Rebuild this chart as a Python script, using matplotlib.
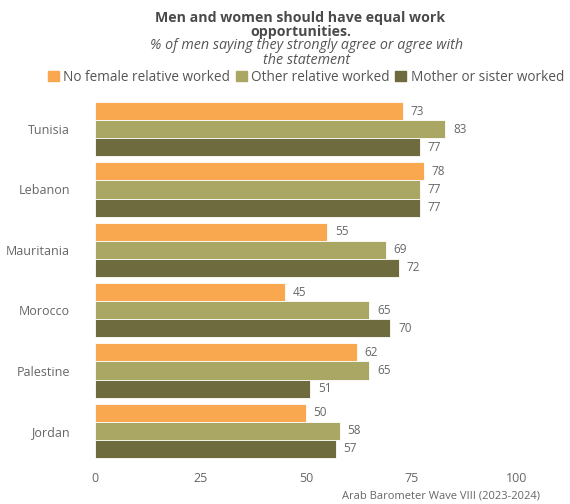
import matplotlib
matplotlib.use("Agg")
import matplotlib.pyplot as plt
import numpy as np

countries = ["Tunisia", "Lebanon", "Mauritania", "Morocco", "Palestine", "Jordan"]
series_names = ["No female relative worked", "Other relative worked", "Mother or sister worked"]
no_female = [73, 78, 55, 45, 62, 50]
other_relative = [83, 77, 69, 65, 65, 58]
mother_sister = [77, 77, 72, 70, 51, 57]
x_ticks = [0, 25, 50, 75, 100]

colors = ["#FAA850", "#AAA764", "#6E6B3E"]
plt.rcParams["font.family"] = ["Open Sans", "DejaVu Sans"]

fig = plt.figure(figsize=(5.7, 5.04), dpi=100)
ax = fig.add_axes([0.1667, 0.0853, 0.7404, 0.7183])

y = np.arange(len(countries))
h = 0.3
values = [no_female, other_relative, mother_sister]
for i, (vals, col, name) in enumerate(zip(values, colors, series_names)):
    pos = y + (i - 1) * h
    bars = ax.barh(pos, vals, height=h, color=col, edgecolor="white", linewidth=0.6, label=name)
    for b, v in zip(bars, vals):
        ax.text(v + 1.8, b.get_y() + b.get_height() / 2, f"{v}", va="center", ha="left",
                fontsize=8.5, color="#666666")

ax.set_ylim(len(countries) - 0.5, -0.5)
ax.set_xlim(0, 100)
ax.set_xticks(x_ticks)
ax.set_xticklabels([str(t) for t in x_ticks])
ax.set_yticks(y)
ax.set_yticklabels(countries)
ax.tick_params(axis="both", length=0, colors="#666666", labelsize=9)
ax.tick_params(axis="y", pad=18)
ax.tick_params(axis="x", pad=8)
for s in ax.spines.values():
    s.set_visible(False)

fig.text(0.527, 0.950, "Men and women should have equal work\nopportunities.", ha="center", va="center",
         fontsize=10.2, fontweight="bold", color="#4A4A4A", linespacing=0.95)
fig.text(0.537, 0.895, "% of men saying they strongly agree or agree with\nthe statement", ha="center",
         va="center", fontsize=10.3, style="italic", color="#555555", linespacing=0.95)

handles = [plt.Rectangle((0, 0), 1, 1, color=c) for c in colors]
fig.legend(handles, series_names, loc="center", bbox_to_anchor=(0.537, 0.847), ncol=3, frameon=False,
           fontsize=9.8, handlelength=0.8, handleheight=0.8, handletextpad=0.35, columnspacing=0.4,
           labelcolor="#555555")

fig.text(0.947, 0.004, "Arab Barometer Wave VIII (2023-2024)", ha="right", va="bottom",
         fontsize=8, color="#666666")

fig.savefig("out.png", dpi=100, facecolor="white")
